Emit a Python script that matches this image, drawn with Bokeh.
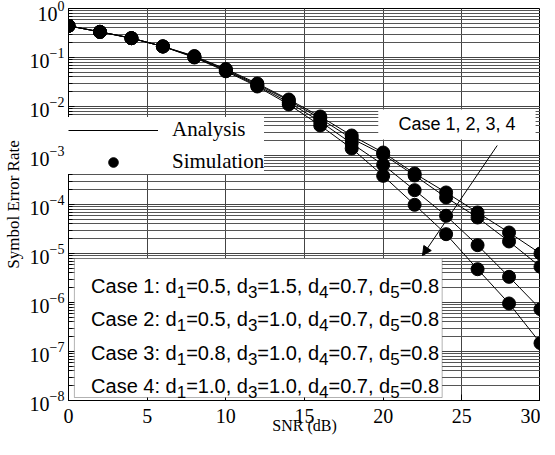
from bokeh.plotting import figure
from bokeh.models import (FixedTicker, Legend, LegendItem, BoxAnnotation, Label,
                          Arrow, NormalHead)
from bokeh.embed import file_html
from bokeh.resources import INLINE

# ---------------- data ----------------
snr = [0, 2, 4, 6, 8, 10, 12, 14, 16, 18, 20, 22, 24, 26, 28, 30]
ser_case1 = [0.443, 0.334, 0.248, 0.168, 0.107, 0.0582, 0.0295, 0.0139, 0.00625, 0.00256,
             0.00115, 4.29e-4, 1.76e-4, 6.87e-5, 2.68e-5, 1.0e-5]
ser_case2 = [0.443, 0.334, 0.248, 0.168, 0.105, 0.0561, 0.0281, 0.0133, 0.00569, 0.00222,
             0.00105, 3.91e-4, 1.39e-4, 5.43e-5, 1.76e-5, 5.35e-6]
ser_case3 = [0.443, 0.334, 0.248, 0.168, 0.102, 0.0543, 0.0268, 0.0121, 0.00494, 0.00176,
             6.46e-4, 1.96e-4, 5.88e-5, 1.48e-5, 3.34e-6, 7.30e-7]
ser_case4 = [0.443, 0.334, 0.248, 0.168, 0.100, 0.0523, 0.0256, 0.0110, 0.00410, 0.00139,
             3.85e-4, 9.86e-5, 2.48e-5, 4.78e-6, 9.55e-7, 1.48e-7]

case_names = ["Case 1", "Case 2", "Case 3", "Case 4"]
case_d1 = ["0.5", "0.5", "0.8", "1.0"]
case_d3 = ["1.5", "1.0", "1.0", "1.0"]
case_d4 = ["0.7", "0.7", "0.7", "0.7"]
case_d5 = ["0.8", "0.8", "0.8", "0.8"]

x_ticks = [0, 5, 10, 15, 20, 25, 30]
y_exponents = [-8, -7, -6, -5, -4, -3, -2, -1, 0]

legend_labels = ["Analysis", "Simulation"]
cases_note = "Case 1, 2, 3, 4"
x_title = "SNR (dB)"
y_title = "Symbol Error Rate"

# ---------------- figure ----------------
SERIF = "Liberation Serif"
SANS = "Liberation Sans"
FRAME_W = 472
FRAME_H = 392

p = figure(frame_width=FRAME_W, frame_height=FRAME_H, x_range=(0, 30), y_range=(1e-8, 1),
           y_axis_type="log", output_backend="svg", toolbar_location=None,
           min_border_left=59, min_border_right=0, min_border_top=8,
           min_border_bottom=0)
p.background_fill_color = "white"
p.border_fill_color = "white"
p.outline_line_color = "black"
p.outline_line_width = 1

major_y = [10.0 ** e for e in y_exponents]
minor_y = [m * 10.0 ** e for e in y_exponents[:-1] for m in range(2, 10)]
p.yaxis.ticker = FixedTicker(ticks=major_y, minor_ticks=minor_y)
p.xaxis.ticker = FixedTicker(ticks=x_ticks)

for ax in (p.xaxis[0], p.yaxis[0]):
    ax.axis_line_color = "black"
    ax.major_tick_line_color = "black"
    ax.minor_tick_line_color = "black"
    ax.major_tick_out = 0
    ax.major_tick_in = 6
    ax.minor_tick_out = 0
    ax.minor_tick_in = 4
    ax.major_label_text_font = SERIF
    ax.major_label_text_font_size = "20px"
    ax.major_label_text_color = "black"
    ax.axis_label_text_font = SERIF
    ax.axis_label_text_font_style = "normal"
    ax.axis_label_text_color = "black"

p.xaxis.axis_label = x_title
p.xaxis.axis_label_text_font_size = "16px"
p.xaxis.major_label_standoff = 8
p.xaxis.axis_label_standoff = -9
p.yaxis.axis_label = y_title
p.yaxis.axis_label_text_font_size = "17px"
p.yaxis.major_label_standoff = 4
p.yaxis.axis_label_standoff = 4

p.xgrid.grid_line_color = "#444444"
p.xgrid.grid_line_width = 1
p.ygrid.grid_line_color = "#444444"
p.ygrid.grid_line_width = 1
p.ygrid.minor_grid_line_color = "#555555"
p.ygrid.minor_grid_line_width = 1

# ---------------- curves ----------------
line_renderers = []
dot_renderers = []
for ser in (ser_case1, ser_case2, ser_case3, ser_case4):
    line_renderers.append(p.line(snr, ser, line_color="black", line_width=1))
for ser in (ser_case1, ser_case2, ser_case3, ser_case4):
    dot_renderers.append(p.scatter(snr, ser, marker="circle", size=13,
                                   fill_color="black", line_color="black"))

# ---------------- legend ----------------
legend = Legend(items=[LegendItem(label=legend_labels[0], renderers=[line_renderers[0]]),
                       LegendItem(label=legend_labels[1], renderers=[dot_renderers[0]])],
                location=(0, 226), orientation="vertical",
                label_text_font=SERIF, label_text_font_size="21px",
                label_text_color="black",
                glyph_width=90, glyph_height=24, label_height=24,
                label_standoff=14, spacing=7, padding=10, margin=0,
                border_line_color=None, background_fill_color="white",
                background_fill_alpha=1.0)
p.add_layout(legend)

# helpers: position in the reference picture -> data position
def xd(px):
    return (px - 67) / 16.0

def yd(py):
    return 10 ** (-(py - 16) / 49.0)

PX_PER_DB = FRAME_W / 30.0

# ---------------- "Case 1, 2, 3, 4" note with arrow ----------------
p.add_layout(BoxAnnotation(left=xd(382), right=xd(542), top=yd(117), bottom=yd(147),
                           fill_color="white", fill_alpha=1.0, line_color=None))
p.add_layout(Label(x=xd(462), y=yd(131), text=cases_note, text_font=SANS,
                   text_font_size="18px", text_align="center", text_baseline="middle",
                   text_color="black"))
p.add_layout(Arrow(x_start=xd(503), y_start=yd(153), x_end=xd(427), y_end=yd(263),
                   line_color="black", line_width=1,
                   end=NormalHead(size=9, fill_color="black", line_color="black")))

# ---------------- case description box ----------------
p.add_layout(BoxAnnotation(left=xd(73), right=xd(447), top=yd(266), bottom=yd(405),
                           fill_color="white", fill_alpha=1.0, line_color="black",
                           line_width=1))

ARIAL_W = {"C": 0.722, "a": 0.556, "s": 0.5, "e": 0.556, " ": 0.278, ":": 0.278,
           "d": 0.556, "=": 0.584, ".": 0.278, ",": 0.278}
for ch in "0123456789":
    ARIAL_W[ch] = 0.556

MAIN_FS = 20
SUB_FS = 17

def tw(s, fs):
    return sum(ARIAL_W[c] for c in s) * fs

for i in range(4):
    pieces = [(f"{case_names[i]}: d", False), ("1", True),
              (f"={case_d1[i]}, d", False), ("3", True),
              (f"={case_d3[i]}, d", False), ("4", True),
              (f"={case_d4[i]}, d", False), ("5", True),
              (f"={case_d5[i]}", False)]
    base = 293 + 33.5 * i
    xpos = xd(90)
    for txt, is_sub in pieces:
        fs = SUB_FS if is_sub else MAIN_FS
        py = base + 6 if is_sub else base
        p.add_layout(Label(x=xpos, y=yd(py), text=txt, text_font=SANS,
                           text_font_size=f"{fs}px", text_align="left",
                           text_baseline="alphabetic", text_color="black"))
        xpos += tw(txt, fs) / PX_PER_DB

open("out.html", "w").write(file_html(p, INLINE))
